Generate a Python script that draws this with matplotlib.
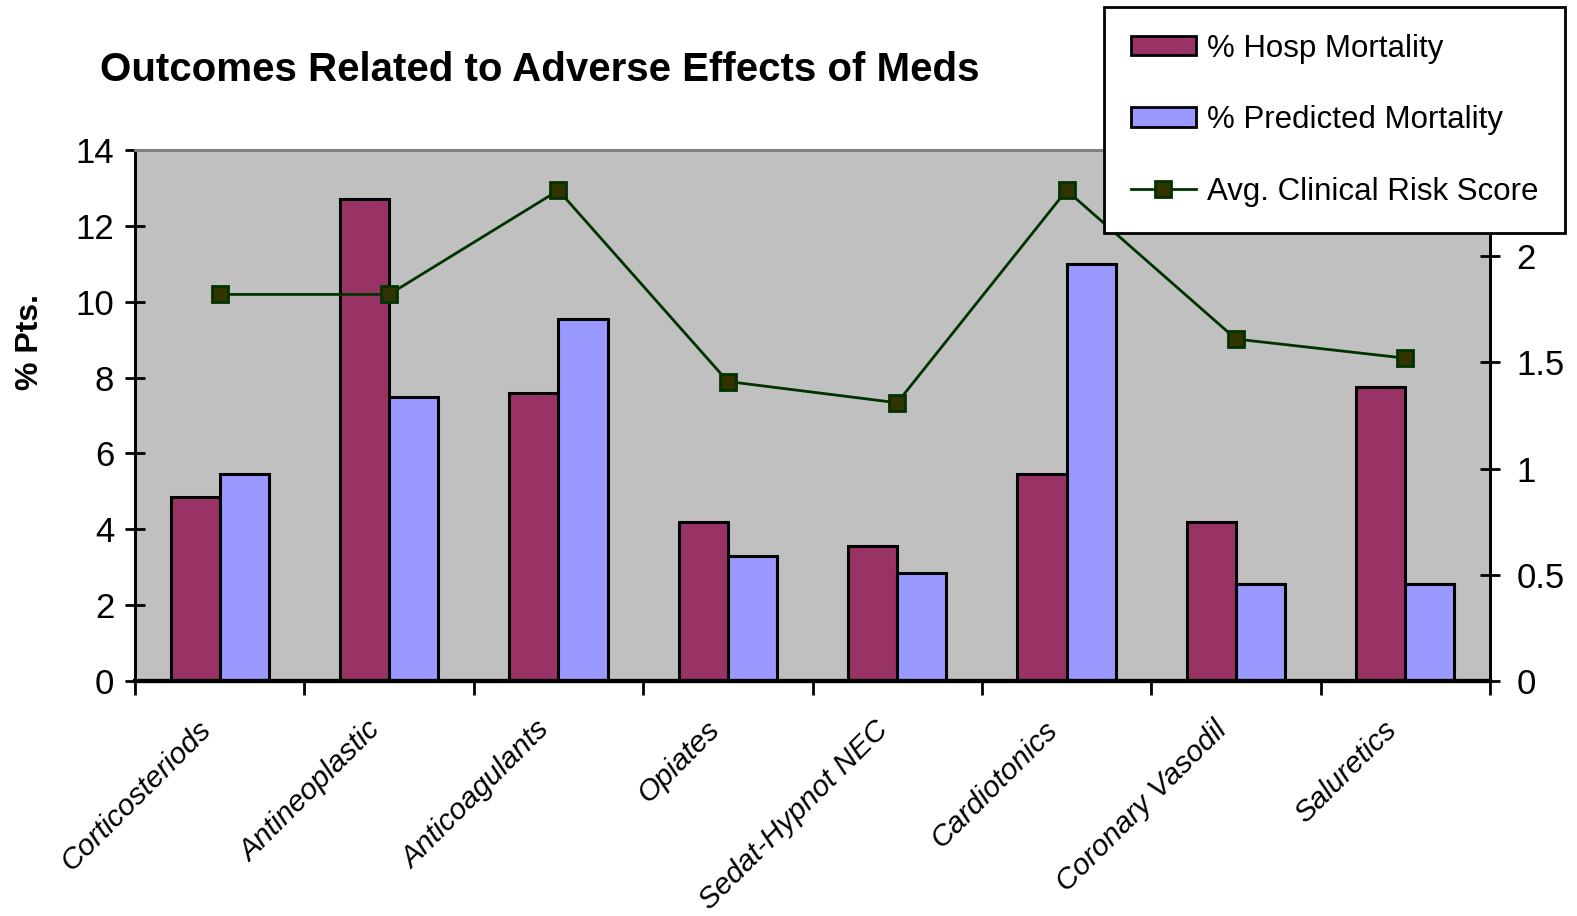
import matplotlib
matplotlib.use("Agg")
import matplotlib.pyplot as plt
import matplotlib.transforms as mtransforms
import numpy as np
from matplotlib.patches import Patch
from matplotlib.lines import Line2D

plt.rcParams["font.family"] = ["Liberation Sans", "DejaVu Sans"]

# Medication classes and outcome values
categories = ["Corticosteriods", "Antineoplastic", "Anticoagulants", "Opiates",
              "Sedat-Hypnot NEC", "Cardiotonics", "Coronary Vasodil", "Saluretics"]
hosp_mortality = [4.85, 12.7, 7.6, 4.2, 3.55, 5.45, 4.2, 7.75]
pred_mortality = [5.45, 7.5, 9.55, 3.3, 2.85, 11.0, 2.55, 2.55]
risk_score = [1.82, 1.82, 2.31, 1.41, 1.31, 2.31, 1.61, 1.52]

HOSP_COLOR = "#993366"
PRED_COLOR = "#9999FF"
LINE_COLOR = "#003300"
MARKER_FILL = "#333300"
FACE_COLOR = "#C0C0C0"

fig = plt.figure(figsize=(15.77, 9.16), dpi=100)
ax = fig.add_axes([135 / 1577, 1 - 681 / 916, (1490 - 135) / 1577, (681 - 150) / 916])
ax.set_facecolor(FACE_COLOR)

xs = np.arange(len(categories))
bar_width = 0.29
ax.bar(xs - bar_width / 2, hosp_mortality, bar_width, color=HOSP_COLOR,
       edgecolor="black", linewidth=2.2, zorder=2)
ax.bar(xs + bar_width / 2, pred_mortality, bar_width, color=PRED_COLOR,
       edgecolor="black", linewidth=2.2, zorder=2)

ax.set_xlim(-0.5, len(categories) - 0.5)
ax.set_ylim(0, 14)
ax.set_yticks(np.arange(0, 15, 2))

# boundary ticks on the category axis, labels sit at the centres
ax.set_xticks(np.arange(-0.5, len(categories), 1))
ax.set_xticklabels([])
ax.set_xticks(xs, minor=True)
ax.set_xticklabels(categories, minor=True, rotation=45, ha="right", va="center",
                   rotation_mode="anchor", fontsize=21.5, style="italic")
ax.tick_params(axis="x", which="minor", length=0, pad=32)
ax.tick_params(axis="x", which="major", length=10, width=2, direction="out")
ax.tick_params(axis="y", length=14, width=2, direction="inout", labelsize=25, pad=8)

shift = mtransforms.ScaledTranslation(-0.13, 0, fig.dpi_scale_trans)
for lbl in ax.get_xticklabels(minor=True):
    lbl.set_transform(lbl.get_transform() + shift)

ax2 = ax.twinx()
ax2.plot(xs, risk_score, color=LINE_COLOR, linewidth=2, marker="s",
         markersize=11, markerfacecolor=MARKER_FILL, markeredgecolor=LINE_COLOR,
         markeredgewidth=2, zorder=3)
ax2.set_ylim(0, 2.5)
ax2.set_yticks(np.arange(0, 2.6, 0.5))
ax2.set_yticklabels(["0", "0.5", "1", "1.5", "2", "2.5"])
ax2.tick_params(axis="y", length=14, width=2, direction="inout", labelsize=25, pad=12)

for a in (ax, ax2):
    a.spines["top"].set_color("#808080")
    a.spines["top"].set_linewidth(2)
    a.spines["left"].set_linewidth(2)
    a.spines["right"].set_linewidth(2)
    a.spines["bottom"].set_linewidth(3)

fig.text(30 / 1577, 1 - 342 / 916, "% Pts.", fontsize=23, fontweight="bold",
         rotation=90, va="center", ha="center")

fig.text(100 / 1577, 1 - 70 / 916, "Outcomes Related to Adverse Effects of Meds",
         fontsize=29, fontweight="bold", va="center", ha="left")

handles = [
    Patch(facecolor=HOSP_COLOR, edgecolor="black", linewidth=2),
    Patch(facecolor=PRED_COLOR, edgecolor="black", linewidth=2),
    Line2D([], [], color=LINE_COLOR, linewidth=2, marker="s", markersize=11,
           markerfacecolor=MARKER_FILL, markeredgecolor=LINE_COLOR, markeredgewidth=2),
]
labels = ["% Hosp Mortality", "% Predicted Mortality", "Avg. Clinical Risk Score"]
leg = fig.legend(handles, labels, loc="upper left",
                 bbox_to_anchor=(1104 / 1577, 1 - 7 / 916), fontsize=22.5,
                 frameon=True, fancybox=False, framealpha=1, edgecolor="black",
                 borderpad=0.85, borderaxespad=0, labelspacing=1.33,
                 handlelength=2.1, handleheight=0.6, handletextpad=0.35)
leg.get_frame().set_linewidth(2)

fig.savefig("out.png", dpi=100)
